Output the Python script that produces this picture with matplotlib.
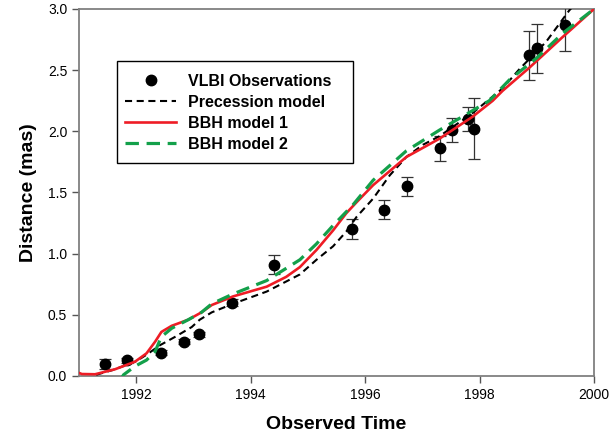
import numpy as np
import matplotlib.pyplot as plt
from matplotlib.patches import Rectangle

plt.rcParams['font.family'] = ['Liberation Sans', 'DejaVu Sans']

# VLBI observations (year, distance, error)
obs_t = [1991.45, 1991.84, 1992.43, 1992.83, 1993.09, 1993.68, 1994.40,
         1995.77, 1996.33, 1996.73, 1997.30, 1997.52, 1997.79, 1997.91,
         1998.86, 1999.00, 1999.50]
obs_d = [0.10, 0.13, 0.19, 0.28, 0.34, 0.60, 0.91,
         1.20, 1.36, 1.55, 1.86, 2.01, 2.10, 2.02,
         2.62, 2.68, 2.87]
obs_err = [0.04, 0.02, 0.02, 0.02, 0.02, 0.03, 0.08,
           0.08, 0.08, 0.08, 0.10, 0.10, 0.10, 0.25,
           0.20, 0.20, 0.21]

# Precession model
prec_t = [1991.30, 1991.60, 1992.00, 1992.20, 1992.41, 1992.68, 1992.97,
          1993.11, 1993.32, 1993.69, 1994.28, 1994.86, 1995.15, 1995.44,
          1995.67, 1995.85, 1996.14, 1996.43, 1996.72, 1997.01, 1997.30,
          1997.88, 1998.40, 1998.70, 1999.16, 1999.57, 1999.75]
prec_d = [0.01, 0.05, 0.12, 0.18, 0.25, 0.32, 0.40,
          0.46, 0.52, 0.59, 0.69, 0.83, 0.95, 1.06,
          1.18, 1.30, 1.45, 1.64, 1.79, 1.89, 1.96,
          2.15, 2.35, 2.51, 2.73, 2.99, 3.08]

# BBH model 1
bbh1_t = [1991.00, 1991.05, 1991.28, 1991.63, 1991.98, 1992.18, 1992.33,
          1992.44, 1992.62, 1992.91, 1993.14, 1993.32, 1993.69, 1994.28,
          1994.62, 1994.86, 1995.15, 1995.44, 1995.67, 1995.85, 1996.14,
          1996.72, 1997.30, 1997.88, 1998.23, 1998.40, 1998.87, 1999.45,
          2000.00]
bbh1_d = [0.025, 0.016, 0.014, 0.055, 0.117, 0.185, 0.28,
          0.36, 0.41, 0.46, 0.52, 0.58, 0.65, 0.73,
          0.81, 0.89, 1.03, 1.19, 1.33, 1.42, 1.56,
          1.79, 1.94, 2.12, 2.25, 2.33, 2.52, 2.77,
          3.00]

# BBH model 2
bbh2_t = [1991.74, 1991.78, 1991.98, 1992.18, 1992.33, 1992.44, 1992.62,
          1992.91, 1993.14, 1993.32, 1993.69, 1994.28, 1994.86, 1995.15,
          1995.44, 1995.79, 1996.14, 1996.72, 1997.30, 1997.88, 1998.17,
          1998.52, 1999.00, 1999.45, 2000.00]
bbh2_d = [-0.02, 0.01, 0.08, 0.13, 0.20, 0.32, 0.39,
          0.46, 0.52, 0.59, 0.67, 0.78, 0.95, 1.08,
          1.23, 1.40, 1.60, 1.84, 2.01, 2.17, 2.25,
          2.42, 2.60, 2.80, 3.00]

fig = plt.figure(figsize=(6.09, 4.38), dpi=100)
ax = fig.add_axes([0.1297, 0.1416, 0.8457, 0.8379])

ax.errorbar(obs_t, obs_d, yerr=obs_err, fmt='none', ecolor='#333333',
            elinewidth=0.9, capsize=4, capthick=0.9, zorder=3)
ax.plot(obs_t, obs_d, 'o', color='black', ms=7.5, label='VLBI Observations',
        zorder=3)
ax.plot(prec_t, prec_d, color='black', lw=1.5, dashes=(3.4, 2.2),
        label='Precession model', zorder=4)
ax.plot(bbh1_t, bbh1_d, color='#ee1c25', lw=1.9, label='BBH model 1', zorder=5)
ax.plot(bbh2_t, bbh2_d, color='#13a04a', lw=2.3, dashes=(4.2, 2.4),
        label='BBH model 2', zorder=6)

ax.set_xlim(1991.0, 2000.0)
ax.set_ylim(0.0, 3.0)
ax.set_xticks([1992, 1994, 1996, 1998, 2000])
ax.set_yticks([0.0, 0.5, 1.0, 1.5, 2.0, 2.5, 3.0])
ax.set_yticklabels(['0.0', '0.5', '1.0', '1.5', '2.0', '2.5', '3.0'])
ax.tick_params(direction='out', length=5, width=1, color='#555555',
               labelsize=10, top=False, right=False)

for s in ax.spines.values():
    s.set_color('#808080')
    s.set_linewidth(1.3)

ax.set_xlabel('Observed Time', fontsize=14, fontweight='bold', labelpad=10)
ax.set_ylabel('Distance (mas)', fontsize=14, fontweight='bold', labelpad=8)

# legend box drawn separately, wider than the entries like in the original
ax.add_patch(Rectangle((0.0738, 0.580), 0.4583, 0.278, transform=ax.transAxes,
                       fill=False, ec='black', lw=1.0, zorder=7))
leg = ax.legend(loc='upper left', bbox_to_anchor=(0.0893, 0.824),
                prop={'weight': 'bold', 'size': 11.5},
                frameon=False, borderpad=0, borderaxespad=0,
                handlelength=3.2, handletextpad=0.75, labelspacing=0.38)

fig.savefig('out.png', dpi=100)
